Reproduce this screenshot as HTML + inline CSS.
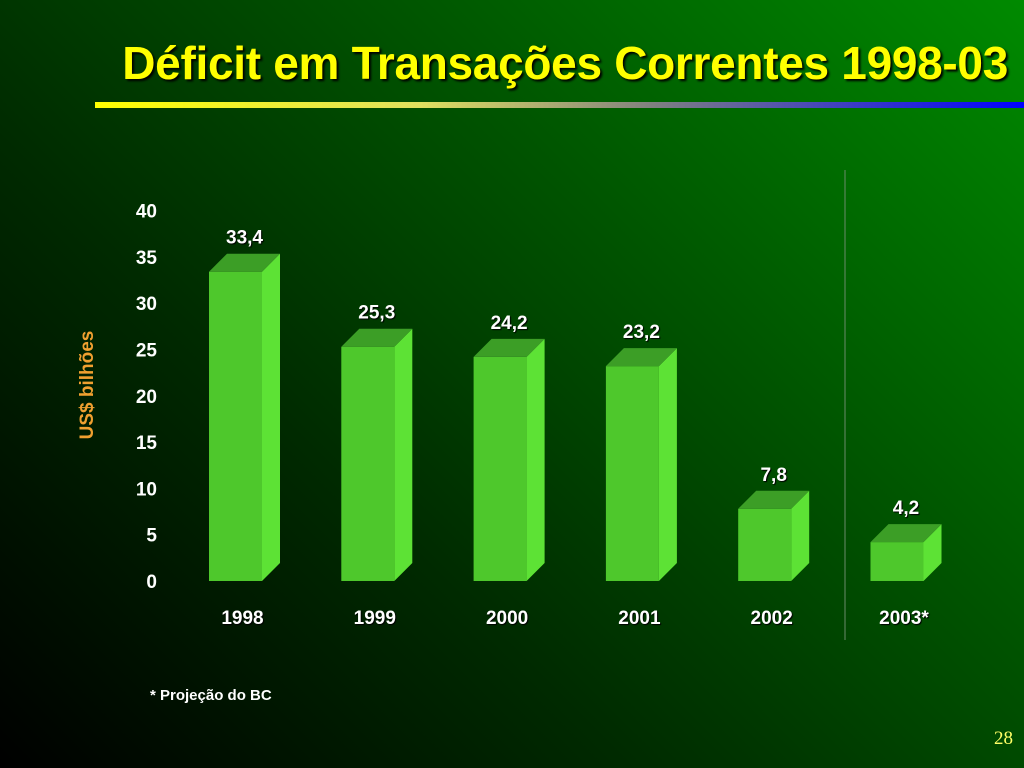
<!DOCTYPE html>
<html><head><meta charset="utf-8"><style>
html,body{margin:0;padding:0}
body{width:1024px;height:768px;overflow:hidden;position:relative;font-family:"Liberation Sans",sans-serif;
background:linear-gradient(45deg,#000 0%,#002a00 35%,#005500 65%,#008a00 100%);}
#title{position:absolute;left:0;width:1008px;text-align:right;top:36px;font-size:46px;font-weight:bold;color:#ffff00;text-shadow:2px 2px 2px #000;letter-spacing:-0.3px;white-space:nowrap}
#rule{position:absolute;left:95px;top:102px;width:929px;height:6px;background:linear-gradient(90deg,#ffff00 0%,#e0e060 35%,#808080 60%,#0000ff 100%)}
svg{position:absolute;left:0;top:0}
</style></head><body>
<div id="title">Déficit em Transações Correntes 1998-03</div>
<div id="rule"></div>
<svg id="chart" width="1024" height="768"></svg>
<script>
const categories=["1998","1999","2000","2001","2002","2003*"];
const values=[33.4,25.3,24.2,23.2,7.8,4.2];
const valueLabels=["33,4","25,3","24,2","23,2","7,8","4,2"];
const yTicks=[0,5,10,15,20,25,30,35,40];
const svg=document.getElementById('chart');
const NS="http://www.w3.org/2000/svg";
const y0=581,pxPer=9.26;
function y(v){return y0-v*pxPer;}
function x(i){return 209+i*132.3;}
function mk(t,a,txt){const e=document.createElementNS(NS,t);for(const k in a)e.setAttribute(k,a[k]);if(txt!==undefined)e.textContent=txt;svg.appendChild(e);return e;}
const bw=53,d=18;
yTicks.forEach(t=>{
const e=mk('text',{x:157,y:y(t)+7,'text-anchor':'end','font-size':19,'font-weight':'bold',fill:'#fff'},t);


});
const vl=mk('line',{x1:845,y1:170,x2:845,y2:640,stroke:'#6a8a6a','stroke-width':1});


categories.forEach((c,i)=>{
const X=x(i),Y=y(values[i]);
const g=document.createElementNS(NS,'g');svg.appendChild(g);


const f=document.createElementNS(NS,'rect');f.setAttribute('x',X);f.setAttribute('y',Y);f.setAttribute('width',bw);f.setAttribute('height',y0-Y);f.setAttribute('fill','#4ec82c');g.appendChild(f);
const s=document.createElementNS(NS,'polygon');s.setAttribute('points',`${X+bw},${Y} ${X+bw+d},${Y-d} ${X+bw+d},${y0-d} ${X+bw},${y0}`);s.setAttribute('fill','#5de235');g.appendChild(s);
const tp=document.createElementNS(NS,'polygon');tp.setAttribute('points',`${X},${Y} ${X+d},${Y-d} ${X+bw+d},${Y-d} ${X+bw},${Y}`);tp.setAttribute('fill','#3c9e26');g.appendChild(tp);
const l=mk('text',{x:X+bw/2+9,y:Y-d-10,'text-anchor':'middle','font-size':19,'font-weight':'bold',fill:'#fff',style:'text-shadow:1px 1px 1px #000'},valueLabels[i]);


const cl=mk('text',{x:X+bw/2+7,y:624,'text-anchor':'middle','font-size':19,'font-weight':'bold',fill:'#fff',style:'text-shadow:1px 1px 1px #000'},c);


});
const at=mk('text',{x:0,y:0,transform:'translate(93,385) rotate(-90)','text-anchor':'middle','font-size':19,'font-weight':'bold',fill:'#f0a030'},'US$ bilhões');


const fn=mk('text',{x:150,y:700,'font-size':15,'font-weight':'bold',fill:'#fff'},'* Projeção do BC');


const pn=mk('text',{x:1013,y:744,'text-anchor':'end','font-size':19,fill:'#ffff66','font-family':'Liberation Serif, serif'},'28');


</script>
</body></html>
